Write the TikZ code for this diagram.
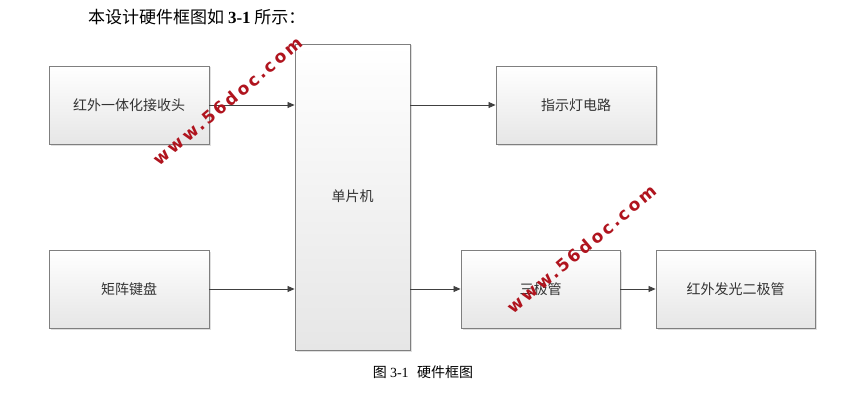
\documentclass[tikz,border=0pt]{standalone}
\usepackage{fontspec}
\setmainfont{Liberation Serif}
\newfontfamily\cjk{Noto Sans CJK SC}
\newfontfamily\wmfont[LetterSpace=16]{DejaVu Sans Bold}
\usetikzlibrary{arrows.meta,shadows}
\definecolor{boxline}{HTML}{7F7F7F}
\definecolor{boxbot}{HTML}{E6E6E6}
\definecolor{arr}{HTML}{404040}
\definecolor{wmred}{HTML}{B0141E}
\definecolor{txt}{HTML}{333333}
\tikzset{
  blk/.style={draw=boxline, line width=0.9pt, top color=white, bottom color=boxbot,
    drop shadow={shadow xshift=1.5pt, shadow yshift=-1.5pt, opacity=0.25},
    font=\cjk\fontsize{14pt}{16pt}\selectfont, text=txt, inner sep=0pt},
  conn/.style={draw=arr, line width=0.8pt, -{Triangle[length=7pt,width=6pt]}},
  wm/.style={text=wmred, font=\wmfont\fontsize{17pt}{19pt}\selectfont, rotate=40, inner sep=0pt}
}
\begin{document}
\begin{tikzpicture}[x=1pt,y=-1pt]
\useasboundingbox[fill=white] (0,0) rectangle (844,412);
\node[anchor=west, inner sep=0pt, font=\cjk\fontsize{17pt}{19pt}\selectfont] (title) at (88,17)
  {本设计硬件框图如 {\rmfamily\bfseries 3-1} 所示：};
\node[blk, minimum width=160pt, minimum height=78pt] (recv) at (129,105) {红外一体化接收头};
\node[blk, minimum width=160pt, minimum height=78pt] (keys) at (129,289) {矩阵键盘};
\node[blk, minimum width=115pt, minimum height=306pt] (mcu) at (352.5,197) {};
\node[font=\cjk\fontsize{14pt}{16pt}\selectfont, text=txt] (mcut) at (352.5,196) {单片机};
\node[blk, minimum width=160pt, minimum height=78pt] (led) at (576,105) {指示灯电路};
\node[blk, minimum width=159pt, minimum height=78pt] (tri) at (540.5,289) {三极管};
\node[blk, minimum width=159pt, minimum height=78pt] (ird) at (735.5,289) {红外发光二极管};
\draw[conn] (recv.east) -- (recv.east -| mcu.west);
\draw[conn] (keys.east) -- (keys.east -| mcu.west);
\draw[conn] (led.west -| mcu.east) -- (led.west);
\draw[conn] (tri.west -| mcu.east) -- (tri.west);
\draw[conn] (tri.east) -- (ird.west);
\node[font=\cjk\fontsize{14pt}{16pt}\selectfont] (cap) at (423,372) {图 {\rmfamily 3-1}\hspace{0.6em}硬件框图};
\node[wm] (wm1) at (228,101) {www.56doc.com};
\node[wm] (wm2) at (582,249) {www.56doc.com};
\end{tikzpicture}
\end{document}
